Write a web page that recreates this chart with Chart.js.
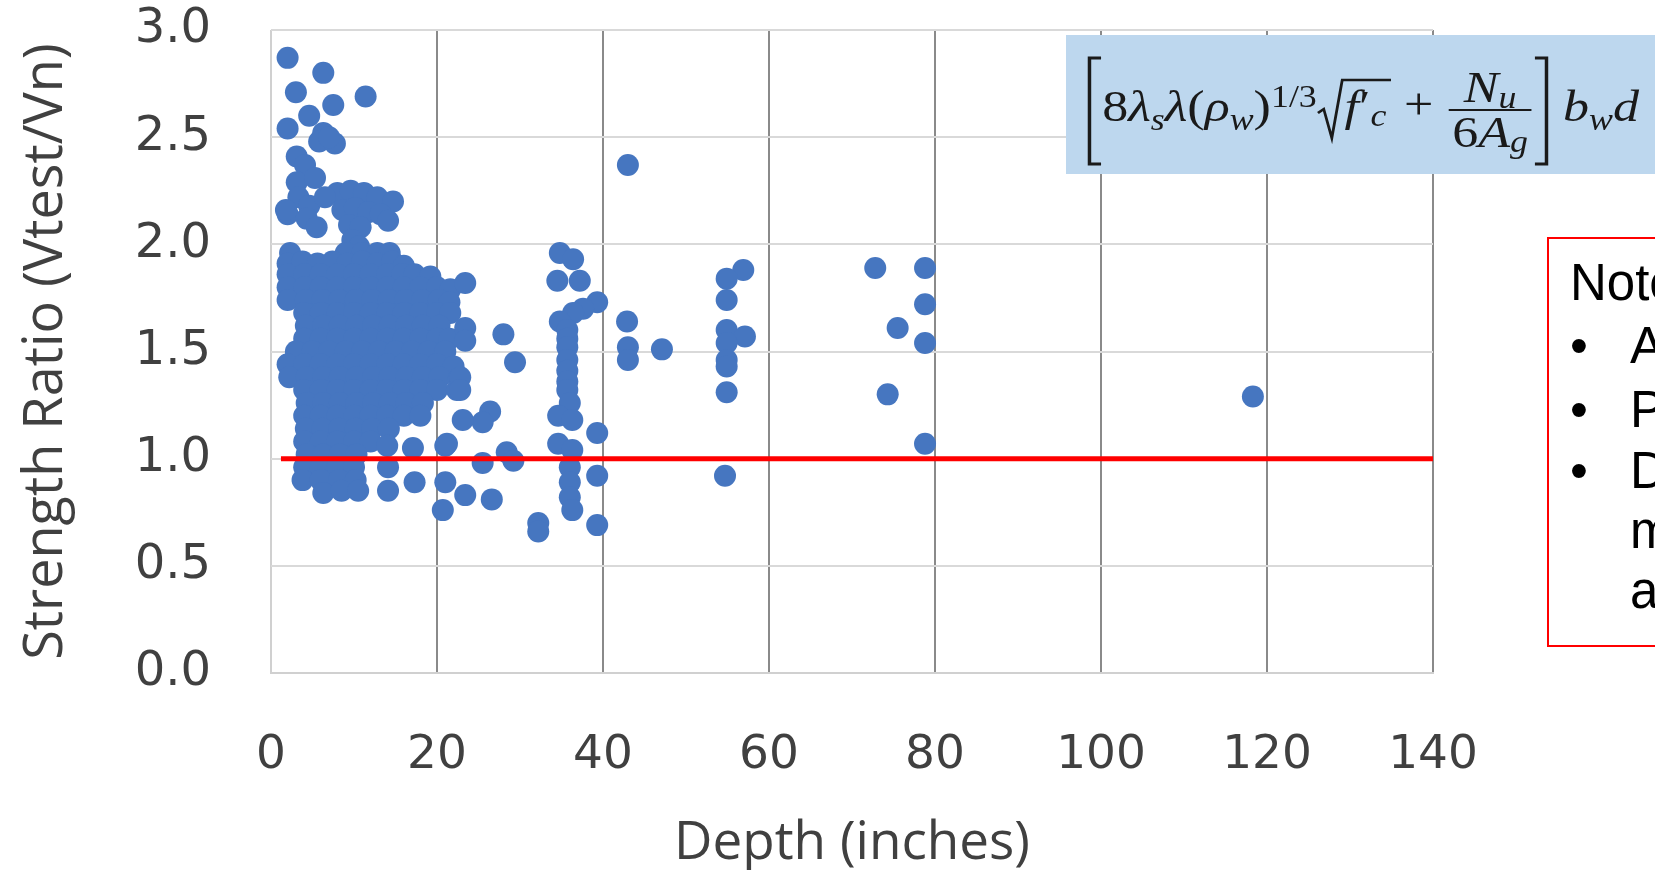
<!DOCTYPE html>
<html>
<head>
<meta charset="utf-8">
<script src="https://cdn.jsdelivr.net/npm/chart.js@4.4.0/dist/chart.umd.min.js"></script>
<style>
html,body{margin:0;padding:0;overflow:hidden;background:#ffffff;}
canvas{display:block;}
</style>
</head>
<body>
<canvas id="chart" width="1655" height="870"></canvas>
<script>
// ---------- DATA (depth in inches, strength ratio Vtest/Vn) ----------
const xTickValues = [0, 20, 40, 60, 80, 100, 120, 140];
const yTickValues = [0.0, 0.5, 1.0, 1.5, 2.0, 2.5, 3.0];

const upperLeftPoints = [
  [2.0,2.87],[6.3,2.80],[3.0,2.71],[7.5,2.65],[11.4,2.69],[4.6,2.60],[2.0,2.54],
  [6.3,2.52],[5.8,2.48],[7.7,2.47],[7.0,2.50],[3.1,2.41],[4.1,2.37],[3.1,2.29],
  [5.3,2.31],[3.3,2.22],[2.0,2.14],[4.6,2.18],[4.3,2.12],[5.5,2.08],[1.8,2.16]
];

const upperClusterPoints = [
  [8.0,2.24],[9.6,2.25],[11.2,2.24],[12.8,2.22],[14.7,2.20],[6.5,2.22],[8.6,2.16],
  [10.1,2.17],[11.7,2.15],[13.2,2.14],[14.1,2.11],[9.4,2.09],[10.8,2.08],[9.8,2.02],
  [10.6,1.99],[2.3,1.96],[9.0,1.96],[11.0,1.96],[12.8,1.96],[14.3,1.96],
  [2.0,1.91],[3.8,1.92],[5.6,1.91],[7.4,1.92],[9.2,1.91],[11.0,1.92],[12.8,1.91],
  [14.6,1.92],[16.0,1.90]
];

const mainClusterPoints = [
  [2.0,1.86],[4.0,1.86],[6.0,1.86],[8.0,1.86],[10.0,1.86],[12.0,1.86],[14.0,1.86],[15.8,1.86],[17.3,1.86],[19.2,1.85],
  [2.0,1.80],[4.0,1.80],[6.0,1.80],[8.0,1.80],[10.0,1.80],[12.0,1.80],[14.0,1.80],[16.0,1.80],[18.0,1.80],[20.0,1.80],[21.6,1.79],
  [2.0,1.74],[4.2,1.74],[6.2,1.74],[8.2,1.74],[10.2,1.74],[12.2,1.74],[14.2,1.74],[16.2,1.74],[18.2,1.74],[20.2,1.74],[21.5,1.73],
  [4.0,1.68],[6.0,1.68],[8.0,1.68],[10.0,1.68],[12.0,1.68],[14.0,1.68],[16.0,1.68],[18.0,1.68],[20.0,1.68],[21.6,1.68],
  [4.2,1.62],[6.3,1.62],[8.3,1.62],[10.3,1.62],[12.3,1.62],[14.3,1.62],[16.3,1.62],[18.3,1.62],[20.3,1.62],
  [4.0,1.56],[6.0,1.56],[8.0,1.56],[10.0,1.56],[12.0,1.56],[14.0,1.56],[16.0,1.56],[18.0,1.56],[20.0,1.56],[21.5,1.56],
  [3.0,1.50],[5.0,1.50],[7.0,1.50],[9.0,1.50],[11.0,1.50],[13.0,1.50],[15.0,1.50],[17.0,1.50],[19.0,1.50],[21.0,1.50],
  [2.0,1.44],[4.0,1.44],[6.0,1.44],[8.0,1.44],[10.0,1.44],[12.0,1.44],[14.0,1.44],[16.0,1.44],[18.0,1.44],[20.0,1.44],[22.0,1.43],
  [2.2,1.38],[4.3,1.38],[6.3,1.38],[8.3,1.38],[10.3,1.38],[12.3,1.38],[14.3,1.38],[16.3,1.38],[18.3,1.38],[20.3,1.38],[22.6,1.37],
  [4.0,1.32],[6.0,1.32],[8.0,1.32],[10.0,1.32],[12.0,1.32],[14.0,1.32],[16.0,1.32],[18.0,1.32],[20.0,1.32],[22.4,1.32],
  [4.3,1.26],[6.3,1.26],[8.3,1.26],[10.3,1.26],[12.3,1.26],[14.3,1.26],[16.3,1.26],[18.3,1.26],
  [4.0,1.20],[6.0,1.20],[8.0,1.20],[10.0,1.20],[12.0,1.20],[14.0,1.20],[16.0,1.20],[18.0,1.20],
  [4.2,1.14],[6.2,1.14],[8.2,1.14],[10.2,1.14],[12.2,1.14],[14.2,1.14],
  [4.0,1.08],[6.0,1.08],[8.0,1.08],[10.0,1.08],[12.0,1.08],[14.0,1.06],
  [4.3,1.02],[6.3,1.02],[8.3,1.02],[10.3,1.02],
  [4.0,0.96],[6.0,0.96],[8.0,0.96],[10.0,0.96],
  [3.8,0.90],[6.0,0.90],[8.2,0.90],[10.2,0.90],
  [6.3,0.84],[8.5,0.85],[10.5,0.85]
];

const nearClusterPoints = [
  [14.1,0.96],[14.1,0.85],[17.3,0.89],[17.1,1.05],[21.0,1.06],
  [23.4,1.82],[23.4,1.61],[23.4,1.55],[22.8,1.38],[22.8,1.32],[28.0,1.58],[29.4,1.45],
  [26.4,1.22],[25.5,1.17],[23.1,1.18],[21.2,1.07],[25.5,0.98],[28.4,1.03],[29.2,0.99],
  [21.0,0.89],[23.4,0.83],[26.6,0.81],[20.7,0.76],[32.2,0.70],[32.2,0.66]
];

const midDepthPoints = [
  [34.8,1.96],[36.4,1.93],[34.5,1.83],[37.2,1.83],[39.3,1.73],[37.6,1.70],[36.4,1.68],
  [34.8,1.64],[35.7,1.60],[35.7,1.56],[35.7,1.52],[35.7,1.46],[35.7,1.41],[35.7,1.36],
  [35.7,1.32],[36.0,1.26],[34.6,1.20],[36.3,1.18],[34.6,1.07],[36.3,1.04],[36.0,0.96],
  [36.0,0.89],[36.0,0.82],[36.3,0.76],[39.3,1.12],[39.3,0.92],[39.3,0.69],
  [42.9,1.64],[43.0,1.52],[43.0,1.46],[47.1,1.51],[43.0,2.37]
];

const deepPoints = [
  [56.9,1.88],[54.9,1.84],[54.9,1.74],[54.9,1.60],[57.1,1.57],[54.9,1.54],[54.9,1.46],
  [54.9,1.43],[54.9,1.31],[54.7,0.92],
  [72.8,1.89],[78.8,1.89],[78.8,1.72],[75.5,1.61],[78.8,1.54],[74.3,1.30],[78.8,1.07],
  [118.3,1.29]
];

const refLineDepth = [1.2, 140];
const refLineRatio = [1.0, 1.0];

// ---------- BUILD ----------
const allPoints = [].concat(upperLeftPoints, upperClusterPoints, mainClusterPoints,
  nearClusterPoints, midDepthPoints, deepPoints).map(p => ({x: p[0], y: p[1]}));
const refLine = refLineDepth.map((d, i) => ({x: d, y: refLineRatio[i]}));

const FF = '"Liberation Serif"';
const M = 45, S = 31, BASE = 121;
const upF = s => s + 'px ' + FF;
const itF = s => 'italic ' + s + 'px ' + FF;
const formulaItems = [
  {k:'lbr'},
  {k:'t', s:'8', f:upF(M), y:BASE},
  {k:'t', s:'λ', f:itF(M), y:BASE},
  {k:'t', s:'s', f:itF(S), y:BASE + 9},
  {k:'t', s:'λ', f:itF(M), y:BASE},
  {k:'t', s:'(', f:upF(M), y:BASE},
  {k:'t', s:'ρ', f:itF(M), y:BASE},
  {k:'t', s:'w', f:itF(S), y:BASE + 9},
  {k:'t', s:')', f:upF(M), y:BASE},
  {k:'t', s:'1/3', f:upF(S), y:BASE - 14},
  {k:'rad', parts:[{s:'f', f:itF(M), y:BASE}, {s:'′', f:upF(M), y:BASE}, {s:'c', f:itF(S), y:BASE + 5}]},
  {k:'t', s:' + ', f:upF(M), y:BASE - 2},
  {k:'frac', num:[{s:'N', f:itF(M), y:102}, {s:'u', f:itF(S), y:108}],
             den:[{s:'6', f:upF(M), y:147}, {s:'A', f:itF(M), y:147}, {s:'g', f:itF(S), y:152}]},
  {k:'rbr'},
  {k:'t', s:' ', f:upF(M), y:BASE},
  {k:'t', s:'b', f:itF(M), y:BASE},
  {k:'t', s:'w', f:itF(S), y:BASE + 9},
  {k:'t', s:'d', f:itF(M), y:BASE}
];

function drawFormula(c, x0, x1) {
  const w = p => { c.font = p.f; return c.measureText(p.s).width; };
  const seqW = arr => arr.reduce((a, p) => a + w(p), 0);
  const itemW = it => {
    if (it.k === 'lbr' || it.k === 'rbr') return 14;
    if (it.k === 't') return w(it);
    if (it.k === 'rad') return 24 + seqW(it.parts) + 4;
    if (it.k === 'frac') return Math.max(seqW(it.num), seqW(it.den)) + 10;
    return 0;
  };
  const total = formulaItems.reduce((a, it) => a + itemW(it), 0);
  const sx = (x1 - x0) / total;
  c.save();
  c.translate(x0, 0);
  c.scale(sx, 1);
  c.fillStyle = '#1a1a1a';
  c.strokeStyle = '#1a1a1a';
  c.textBaseline = 'alphabetic';
  c.textAlign = 'left';
  const drawSeq = (arr, x) => { for (const p of arr) { c.font = p.f; c.fillText(p.s, x, p.y); x += w(p); } };
  let x = 0;
  for (const it of formulaItems) {
    const iw = itemW(it);
    if (it.k === 't') {
      c.font = it.f; c.fillText(it.s, x, it.y);
    } else if (it.k === 'lbr' || it.k === 'rbr') {
      const vx = it.k === 'lbr' ? x + 3 : x + iw - 3;
      const ax = it.k === 'lbr' ? x + 13 : x + iw - 13;
      c.lineWidth = 3;
      c.beginPath();
      c.moveTo(ax, 58); c.lineTo(vx, 58); c.lineTo(vx, 164); c.lineTo(ax, 164);
      c.stroke();
    } else if (it.k === 'rad') {
      c.lineWidth = 2.4;
      c.beginPath();
      c.moveTo(x + 1, 113); c.lineTo(x + 6, 109); c.lineTo(x + 13, 138);
      c.lineTo(x + 22, 80); c.lineTo(x + iw, 80);
      c.stroke();
      drawSeq(it.parts, x + 24);
    } else if (it.k === 'frac') {
      c.lineWidth = 2.2;
      c.beginPath(); c.moveTo(x + 2, 110); c.lineTo(x + iw - 2, 110); c.stroke();
      drawSeq(it.num, x + (iw - seqW(it.num)) / 2);
      drawSeq(it.den, x + (iw - seqW(it.den)) / 2);
    }
    x += iw;
  }
  c.restore();
}

const annotations = {
  id: 'annotations',
  afterDraw(chart) {
    const c = chart.ctx;
    c.save();
    // ---- formula box ----
    c.fillStyle = '#bdd7ee';
    c.fillRect(1066, 35, 620, 139);
    drawFormula(c, 1086, 1639);

    // ---- notes box ----
    c.strokeStyle = '#ff0000';
    c.lineWidth = 2;
    c.strokeRect(1548, 238, 200, 408);
    c.fillStyle = '#000000';
    c.textBaseline = 'alphabetic';
    c.textAlign = 'left';
    c.font = '51px "Liberation Sans"';
    c.fillText('Notes:', 1570, 300);
    const bulletX = 1570, textX = 1630;
    const lines = [
      {b:true, s:'All members without stirrups', y:363},
      {b:true, s:'Point loads only', y:427},
      {b:true, s:'Data includes', y:488},
      {b:false, s:'members with', y:548},
      {b:false, s:'axial load', y:608}
    ];
    for (const l of lines) {
      if (l.b) c.fillText('•', bulletX, l.y);
      c.fillText(l.s, textX, l.y);
    }
    c.restore();
  }
};

new Chart(document.getElementById('chart').getContext('2d'), {
  type: 'scatter',
  data: {
    datasets: [
      {
        type: 'line',
        data: refLine,
        borderColor: '#ff0000',
        borderWidth: 5,
        pointRadius: 0,
        fill: false,
        order: 0
      },
      {
        data: allPoints,
        backgroundColor: '#4676c0',
        borderWidth: 0,
        pointRadius: 11,
        pointHoverRadius: 11,
        order: 1
      }
    ]
  },
  options: {
    responsive: false,
    animation: false,
    devicePixelRatio: 1,
    layout: { padding: { left: 0, right: 222, top: 30, bottom: 0 }, autoPadding: false },
    plugins: { legend: { display: false }, tooltip: { enabled: false } },
    scales: {
      x: {
        type: 'linear',
        min: xTickValues[0],
        max: xTickValues[xTickValues.length - 1],
        afterBuildTicks: s => { s.ticks = xTickValues.map(v => ({value: v})); },
        ticks: {
          padding: 0,
          color: '#404040',
          maxRotation: 0,
          font: { family: '"DejaVu Sans"', size: 47, lineHeight: 1.2 },
          callback: v => String(v)
        },
        grid: {
          color: ctx => (ctx.tick && ctx.tick.value === 0) ? '#d0d0d0' : '#8a8a8a',
          lineWidth: 2,
          drawTicks: true,
          tickLength: 55,
          tickColor: 'rgba(0,0,0,0)'
        },
        border: { display: true, color: '#d0d0d0', width: 2 },
        title: {
          display: true,
          text: 'Depth (inches)',
          color: '#404040',
          font: { family: '"Open Sans"', size: 53, lineHeight: 1 },
          padding: { top: 0, bottom: 0 }
        },
        afterFit: s => { s.height = 197; }
      },
      y: {
        min: yTickValues[0],
        max: yTickValues[yTickValues.length - 1],
        afterBuildTicks: s => { s.ticks = yTickValues.map(v => ({value: v})); },
        ticks: {
          padding: 0,
          color: '#404040',
          font: { family: '"DejaVu Sans"', size: 48, lineHeight: 1.2 },
          callback: v => Number(v).toFixed(1)
        },
        grid: {
          color: '#d9d9d9',
          lineWidth: 2,
          drawTicks: true,
          tickLength: 60,
          tickColor: 'rgba(0,0,0,0)'
        },
        border: { display: false },
        title: {
          display: true,
          text: 'Strength Ratio (Vtest/Vn)',
          color: '#404040',
          font: { family: '"Open Sans"', size: 54, lineHeight: 1 },
          padding: { top: 20, bottom: 0 }
        },
        afterFit: s => { s.width = 271; }
      }
    }
  },
  plugins: [annotations]
});
</script>
</body>
</html>
